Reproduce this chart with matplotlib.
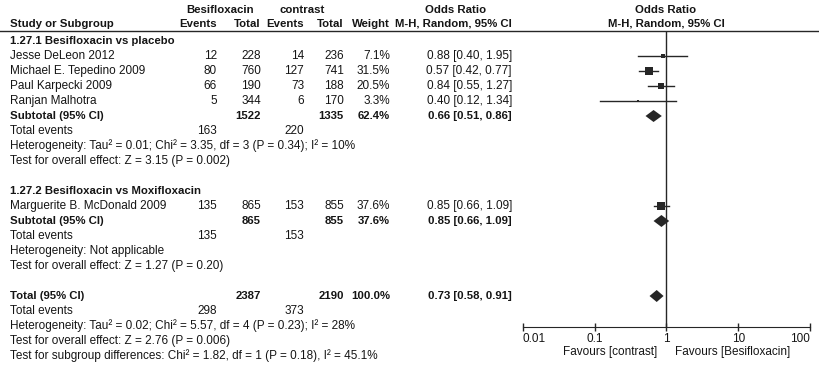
import matplotlib
matplotlib.use('Agg')
import matplotlib.pyplot as plt
from matplotlib.ticker import NullLocator
import numpy as np

plt.rcParams['font.family'] = ['Liberation Sans', 'DejaVu Sans']

# --- data ---
group_titles = ['1.27.1 Besifloxacin vs placebo', '1.27.2 Besifloxacin vs Moxifloxacin']
studies = [['Jesse DeLeon 2012', 'Michael E. Tepedino 2009', 'Paul Karpecki 2009', 'Ranjan Malhotra'],
           ['Marguerite B. McDonald 2009']]
besi_events = [[12, 80, 66, 5], [135]]
besi_total = [[228, 760, 190, 344], [865]]
ctrl_events = [[14, 127, 73, 6], [153]]
ctrl_total = [[236, 741, 188, 170], [855]]
weights = [[7.1, 31.5, 20.5, 3.3], [37.6]]
or_est = [[0.88, 0.57, 0.84, 0.40], [0.85]]
or_lo = [[0.40, 0.42, 0.55, 0.12], [0.66]]
or_hi = [[1.95, 0.77, 1.27, 1.34], [1.09]]

# subtotals per group: totals, weight, OR, events
sub_besi_total = [1522, 865]
sub_ctrl_total = [1335, 855]
sub_weight = [62.4, 37.6]
sub_or = [0.66, 0.85]
sub_lo = [0.51, 0.66]
sub_hi = [0.86, 1.09]
sub_besi_events = [163, 135]
sub_ctrl_events = [220, 153]
sub_het = ['Heterogeneity: Tau\u00b2 = 0.01; Chi\u00b2 = 3.35, df = 3 (P = 0.34); I\u00b2 = 10%',
           'Heterogeneity: Not applicable']
sub_test = ['Test for overall effect: Z = 3.15 (P = 0.002)',
            'Test for overall effect: Z = 1.27 (P = 0.20)']

# overall
tot_besi_total, tot_ctrl_total, tot_weight = 2387, 2190, 100.0
tot_or, tot_lo, tot_hi = 0.73, 0.58, 0.91
tot_besi_events, tot_ctrl_events = 298, 373
tot_lines = ['Heterogeneity: Tau\u00b2 = 0.02; Chi\u00b2 = 5.57, df = 4 (P = 0.23); I\u00b2 = 28%',
             'Test for overall effect: Z = 2.76 (P = 0.006)',
             'Test for subgroup differences: Chi\u00b2 = 1.82, df = 1 (P = 0.18), I\u00b2 = 45.1%']

axis_ticks = [0.01, 0.1, 1, 10, 100]
axis_labels = ['0.01', '0.1', '1', '10', '100']

# --- layout (pixels) ---
W, H = 820, 365
FS = 8.5      # regular text
FSB = 8.2     # bold text (the original bold face runs narrower)
TXT = '#151515'
INK = '#262626'
ROW0, ROW_H = 41, 15
X_NAME, X_BE, X_BT, X_CE, X_CT, X_W, X_OR = 10, 217, 261, 304, 344, 390, 512
AX_L, AX_R, AX_TOP, AX_BOT = 523, 810, 31, 327

fig = plt.figure(figsize=(W / 100, H / 100), dpi=100)
tab = fig.add_axes([0, 0, 1, 1])
tab.set_xlim(0, W)
tab.set_ylim(H, 0)
tab.axis('off')

fp = fig.add_axes([AX_L / W, (H - AX_BOT) / H, (AX_R - AX_L) / W, (AX_BOT - AX_TOP) / H])
fp.patch.set_visible(False)
fp.set_xscale('log')
fp.set_xlim(axis_ticks[0], axis_ticks[-1])
fp.set_ylim((AX_BOT - ROW0) / ROW_H, (AX_TOP - ROW0) / ROW_H)
for s in ['top', 'left', 'right']:
    fp.spines[s].set_visible(False)
fp.spines['bottom'].set_color(INK)
fp.set_yticks([])
fp.set_xticks(axis_ticks)
fp.set_xticklabels(axis_labels)
fp.xaxis.set_minor_locator(NullLocator())
fp.tick_params(axis='x', direction='inout', length=6, width=1, color=INK,
               labelsize=FS, labelcolor=TXT, pad=1)
lbls = fp.get_xticklabels()
lbls[0].set_ha('left')
lbls[-1].set_ha('right')
fp.axvline(1, color=INK, lw=1)


def ry(r):
    return ROW0 + ROW_H * r


def put(x, r, s, ha='right', bold=False):
    tab.text(x, ry(r), s, ha=ha, va='center', fontsize=FSB if bold else FS, color=TXT,
             fontweight='bold' if bold else 'normal')


def diamond(r, est, lo, hi):
    fp.fill([lo, est, hi, est], [r, r - 0.4, r, r + 0.4], color=INK, lw=0)


# headers
for x, s in [(220, 'Besifloxacin'), (302, 'contrast'), (456, 'Odds Ratio'), (666, 'Odds Ratio')]:
    tab.text(x, 10, s, ha='center', va='center', fontsize=FSB, color=TXT, fontweight='bold')
hdr = [(X_NAME, 'Study or Subgroup', 'left'), (X_BE, 'Events', 'right'), (X_BT, 'Total', 'right'),
       (X_CE, 'Events', 'right'), (X_CT, 'Total', 'right'), (X_W, 'Weight', 'right'),
       (X_OR, 'M-H, Random, 95% CI', 'right'), (666, 'M-H, Random, 95% CI', 'center')]
for x, s, ha in hdr:
    tab.text(x, 24, s, ha=ha, va='center', fontsize=FSB, color=TXT, fontweight='bold')
tab.plot([0, 818], [AX_TOP, AX_TOP], color=INK, lw=1)

# groups
r = 0
for g in range(len(group_titles)):
    put(X_NAME, r, group_titles[g], ha='left', bold=True)
    r += 1
    for i in range(len(studies[g])):
        put(X_NAME, r, studies[g][i], ha='left')
        put(X_BE, r, str(besi_events[g][i]))
        put(X_BT, r, str(besi_total[g][i]))
        put(X_CE, r, str(ctrl_events[g][i]))
        put(X_CT, r, str(ctrl_total[g][i]))
        put(X_W, r, f'{weights[g][i]:.1f}%')
        put(X_OR, r, f'{or_est[g][i]:.2f} [{or_lo[g][i]:.2f}, {or_hi[g][i]:.2f}]')
        fp.plot([or_lo[g][i], or_hi[g][i]], [r, r], color=INK, lw=1)
        box = 1.3 * np.sqrt(weights[g][i]) * 0.72
        fp.plot(or_est[g][i], r, marker='s', ms=box, color=INK, mew=0)
        r += 1
    put(X_NAME, r, 'Subtotal (95% CI)', ha='left', bold=True)
    put(X_BT, r, str(sub_besi_total[g]), bold=True)
    put(X_CT, r, str(sub_ctrl_total[g]), bold=True)
    put(X_W, r, f'{sub_weight[g]:.1f}%', bold=True)
    put(X_OR, r, f'{sub_or[g]:.2f} [{sub_lo[g]:.2f}, {sub_hi[g]:.2f}]', bold=True)
    diamond(r, sub_or[g], sub_lo[g], sub_hi[g])
    r += 1
    put(X_NAME, r, 'Total events', ha='left')
    put(X_BE, r, str(sub_besi_events[g]))
    put(X_CE, r, str(sub_ctrl_events[g]))
    r += 1
    put(X_NAME, r, sub_het[g], ha='left')
    r += 1
    put(X_NAME, r, sub_test[g], ha='left')
    r += 2

# overall
put(X_NAME, r, 'Total (95% CI)', ha='left', bold=True)
put(X_BT, r, str(tot_besi_total), bold=True)
put(X_CT, r, str(tot_ctrl_total), bold=True)
put(X_W, r, f'{tot_weight:.1f}%', bold=True)
put(X_OR, r, f'{tot_or:.2f} [{tot_lo:.2f}, {tot_hi:.2f}]', bold=True)
diamond(r, tot_or, tot_lo, tot_hi)
r += 1
put(X_NAME, r, 'Total events', ha='left')
put(X_BE, r, str(tot_besi_events))
put(X_CE, r, str(tot_ctrl_events))
for s in tot_lines:
    r += 1
    put(X_NAME, r, s, ha='left')

tab.text(657, 352, 'Favours [contrast]', ha='right', va='center', fontsize=FS, color=TXT)
tab.text(675, 352, 'Favours [Besifloxacin]', ha='left', va='center', fontsize=FS, color=TXT)

fig.savefig('out.png', dpi=100, facecolor='white')
